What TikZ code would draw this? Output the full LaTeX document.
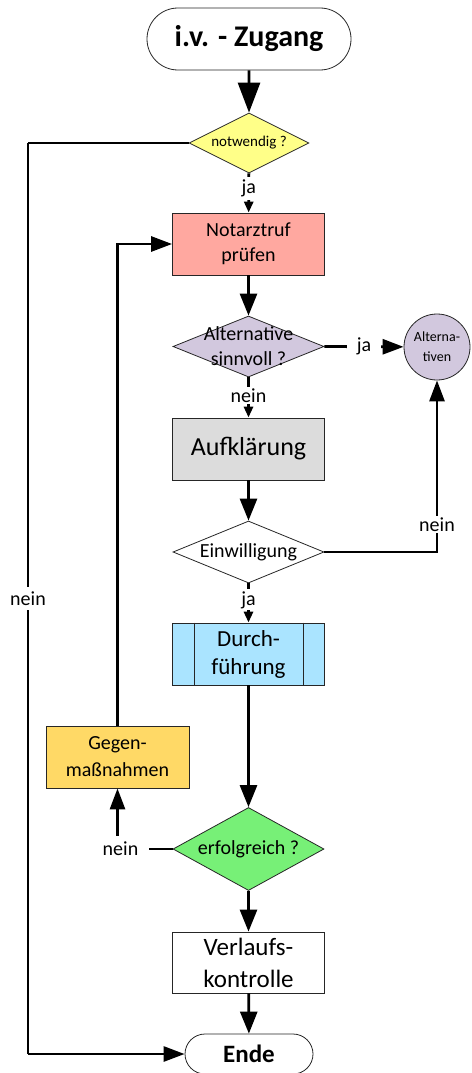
\documentclass[tikz,border=0pt]{standalone}
\usepackage{fontspec}
\setmainfont{Carlito}
\usetikzlibrary{shapes.geometric,shapes.misc,arrows.meta}
\definecolor{cyel}{RGB}{255,255,136}
\definecolor{cpink}{RGB}{255,168,160}
\definecolor{clav}{RGB}{210,200,222}
\definecolor{cgray}{RGB}{220,220,220}
\definecolor{cblue}{RGB}{170,228,255}
\definecolor{cgreen}{RGB}{119,240,119}
\definecolor{corange}{RGB}{255,217,102}
\begin{document}
\begin{tikzpicture}[x=1pt,y=-1pt,
  bord/.style={draw=black!85, line width=0.8pt},
  box/.style={bord, rectangle, inner sep=0pt, align=center, minimum width=152pt, minimum height=62pt},
  dia/.style={bord, diamond, inner sep=0pt},
  term/.style={bord, rounded rectangle, inner sep=0pt},
  lab/.style={fill=white, inner sep=2pt, font=\fontsize{20}{24}\selectfont},
  bigconn/.style={line width=2.8pt, -{Triangle[length=30pt,width=22pt]}},
  conn/.style={line width=2.8pt, -{Triangle[length=22pt,width=17pt]}},
  mconn/.style={line width=2.8pt, -{Triangle[length=21pt,width=15pt]}},
  sconn/.style={line width=2.8pt, -{Triangle[length=11pt,width=9pt]}},
  plain/.style={line width=2.8pt},
]
\useasboundingbox (0,0) rectangle (471,1073);

% nodes
\node[term, minimum width=204pt, minimum height=62pt, font=\fontsize{30}{36}\selectfont\bfseries] (start) at (249,39) {i.v. - Zugang};
\node[dia, fill=cyel, minimum width=120pt, minimum height=60pt] (d1) at (249,143) {};
\node[font=\fontsize{15}{18}\selectfont] (t1) at (d1) {notwendig ?};
\node[box, fill=cpink, font=\fontsize{20}{25}\selectfont] (b1) at (248.5,244) {Notarztruf\\prüfen};
\node[dia, fill=clav, minimum width=151pt, minimum height=61pt] (d2) at (248.5,346.5) {};
\node[font=\fontsize{20}{25}\selectfont, align=center] (t2) at (d2) {Alternative\\sinnvoll ?};
\node[bord, circle, fill=clav, minimum size=66pt, inner sep=0pt, align=center, font=\fontsize{14}{20}\selectfont] (c1) at (437,347) {Alterna-\\tiven};
\node[box, fill=cgray, font=\fontsize{26}{30}\selectfont] (b2) at (248.5,449) {Aufklärung};
\node[dia, fill=white, minimum width=151pt, minimum height=62pt] (d3) at (248.5,552) {};
\node[font=\fontsize{20}{24}\selectfont] (t3) at (d3) {Einwilligung};
\node[box, fill=cblue, font=\fontsize{23}{28}\selectfont] (b3) at (248.5,654) {Durch-\\führung};
\draw[bord] ([xshift=22pt]b3.north west) -- ([xshift=22pt]b3.south west);
\draw[bord] ([xshift=-22pt]b3.north east) -- ([xshift=-22pt]b3.south east);
\node[box, fill=corange, minimum width=143pt, font=\fontsize{20}{27}\selectfont] (b4) at (117.5,757) {Gegen-\\maßnahmen};
\node[dia, fill=cgreen, minimum width=151pt, minimum height=83pt] (d4) at (248.5,849) {};
\node[font=\fontsize{20}{24}\selectfont] (t4) at (d4) {erfolgreich ?};
\node[box, fill=white, minimum height=61pt, font=\fontsize{25}{32}\selectfont] (b5) at (248.5,962.5) {Verlaufs-\\kontrolle};
\node[term, minimum width=128pt, minimum height=40pt, font=\fontsize{25}{30}\selectfont\bfseries] (ende) at (249,1054) {Ende};

\coordinate (L1) at (28,143);
\coordinate (L2) at (28,1054);

% connectors
\draw[bigconn] (start) -- (d1);
\draw[sconn] (d1) -- node[lab, pos=0.38, inner ysep=3pt]{ja} (b1);
\draw[conn] (b1) -- (d2);
\draw[mconn] (d2.east) -- node[lab, inner xsep=10pt]{ja} (c1);
\draw[sconn] (d2) -- node[lab, pos=0.45]{nein} (b2);
\draw[conn] (b2) -- (d3);
\draw[mconn] (d3.east) -| node[lab, pos=0.58]{nein} (c1);
\draw[sconn] (d3) -- node[lab, pos=0.42]{ja} (b3);
\draw[conn] (b3) -- (d4);
\draw[conn] (d4) -- (b5);
\draw[conn] (b5) -- (ende);
\draw[mconn] (d4.west) -| node[lab, pos=0.5, inner xsep=11pt, inner ysep=6pt, xshift=3pt]{nein} (b4.south);
\draw[mconn] (b4.north) |- (b1.west);
\draw[plain] (d1.west) -- (L1);
\draw[plain] (L1) -- node[lab, inner ysep=5pt]{nein} (L2);
\draw[mconn] (L2) -- (ende.west);
\end{tikzpicture}
\end{document}
